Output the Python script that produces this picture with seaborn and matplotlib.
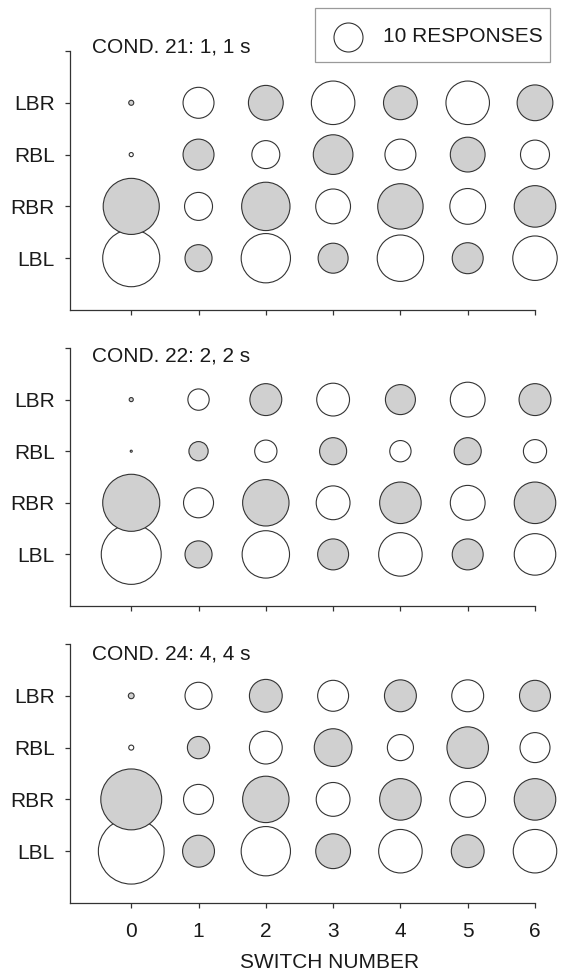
import matplotlib
matplotlib.use("Agg")
import matplotlib.pyplot as plt
from matplotlib.patches import Rectangle
import numpy as np
import pandas as pd
import seaborn as sns

# ---- data -------------------------------------------------------------
switch_number = [0, 1, 2, 3, 4, 5, 6]
sequences = ["LBL", "RBR", "RBL", "LBR"]          # bottom to top
conditions = ["COND. 21: 1, 1 s", "COND. 22: 2, 2 s", "COND. 24: 4, 4 s"]

# responses for each sequence at switch numbers 0..6
c21_lbl = [38.7, 8.7, 28.9, 10.7, 25.6, 11.4, 23.5]
c21_rbr = [37.4, 9.3, 27.8, 14.4, 24.5, 15.2, 20.5]
c21_rbl = [0.2, 11.4, 9.3, 18.7, 11.4, 14.4, 10.0]
c21_lbr = [0.3, 11.4, 14.4, 22.5, 13.6, 22.5, 15.2]

c22_lbl = [42.7, 8.7, 26.7, 11.4, 22.5, 11.4, 20.5]
c22_rbr = [38.7, 10.7, 25.6, 13.6, 20.5, 14.4, 20.5]
c22_rbl = [0.05, 4.4, 5.9, 8.7, 5.4, 8.7, 6.4]
c22_lbr = [0.2, 5.4, 12.1, 12.8, 10.7, 14.4, 12.1]

c24_lbl = [51.4, 12.1, 28.9, 14.4, 22.5, 12.8, 22.5]
c24_rbr = [44.1, 10.7, 25.6, 13.6, 20.5, 15.2, 20.5]
c24_rbl = [0.3, 5.9, 12.8, 16.9, 8.1, 20.5, 10.7]
c24_lbr = [0.4, 8.7, 12.8, 11.4, 12.1, 12.1, 11.4]

legend_count = 10
legend_label = "10 RESPONSES"
x_label = "SWITCH NUMBER"

panels = [
    {"LBL": c21_lbl, "RBR": c21_rbr, "RBL": c21_rbl, "LBR": c21_lbr},
    {"LBL": c22_lbl, "RBR": c22_rbr, "RBL": c22_rbl, "LBR": c22_lbr},
    {"LBL": c24_lbl, "RBR": c24_rbr, "RBL": c24_rbl, "LBR": c24_lbr},
]

# ---- style ------------------------------------------------------------
sns.set_style("ticks")
plt.rcParams["font.family"] = ["Liberation Sans", "DejaVu Sans"]
plt.rcParams["font.size"] = 15

INK = "#1a1a1a"
AXIS = "#333333"
SHADE = "#d0d0d0"
W, H = 562, 976
PT = 72 / 100                       # points per pixel
s_ref = (29 * PT) ** 2               # marker area for legend_count responses
n_top = 60                           # upper end of the area scale
s_top = s_ref * n_top / legend_count

fig = plt.figure(figsize=(W / 100, H / 100), dpi=100)

panel_px = [(51, 310), (348, 606), (644, 903)]
title_y = [4.08, 3.84, 3.81]
left_px, right_px = 70, 535
seq_pos = {s: i for i, s in enumerate(sequences)}

axes = []
for k, (data, (top, bot)) in enumerate(zip(panels, panel_px)):
    rows = []
    for seq in sequences:
        for sw, n in zip(switch_number, data[seq]):
            # shading alternates with the final lever of the sequence
            shaded = (seq[-1] == "R") == (sw % 2 == 0)
            rows.append({"switch": sw, "pos": seq_pos[seq], "n": n,
                         "shade": "gray" if shaded else "white"})
    df = pd.DataFrame(rows)

    ax = fig.add_axes([left_px / W, 1 - bot / H,
                       (right_px - left_px) / W, (bot - top) / H])
    sns.scatterplot(data=df, x="switch", y="pos", size="n", hue="shade",
                    palette={"gray": SHADE, "white": "white"},
                    size_norm=(0, n_top), sizes=(0, s_top),
                    edgecolor=AXIS, linewidth=0.8, legend=False,
                    clip_on=False, zorder=3, ax=ax)
    ax.set_xlim(-0.91, 6)
    ax.set_ylim(-1, 4)
    ax.set_yticks([0, 1, 2, 3, 4])
    ax.set_yticklabels(sequences + [""])
    ax.set_xticks(switch_number)
    if k == 2:
        ax.set_xticklabels([str(v) for v in switch_number])
    else:
        ax.set_xticklabels([])
    ax.set_xlabel("")
    ax.set_ylabel("")
    sns.despine(ax=ax)
    for sp in ("left", "bottom"):
        ax.spines[sp].set_color(AXIS)
        ax.spines[sp].set_linewidth(0.9)
    ax.tick_params(axis="both", direction="out", length=3.6, width=0.9,
                   color=AXIS, labelcolor=INK, labelsize=15)
    ax.tick_params(axis="y", pad=7.5)
    ax.tick_params(axis="x", pad=10)
    ax.text(-0.58, title_y[k], conditions[k], ha="left", va="center",
            fontsize=15, color=INK)
    axes.append(ax)

fig.text(330 / W, 1 - 963 / H, x_label, ha="center", va="center",
         fontsize=15, color=INK)

# legend key
fig.add_artist(Rectangle((315 / W, 1 - 62 / H), 235 / W, 54 / H,
                         transform=fig.transFigure, fill=False,
                         edgecolor="#9a9a9a", linewidth=0.9))
axes[0].scatter([348 / W], [1 - 37 / H], s=s_ref, facecolor="white",
                edgecolor=AXIS, linewidth=0.8, transform=fig.transFigure,
                clip_on=False, zorder=5)
fig.text(383 / W, 1 - 37 / H, legend_label, ha="left", va="center",
         fontsize=15, color=INK)

fig.savefig("out.png", dpi=100)
